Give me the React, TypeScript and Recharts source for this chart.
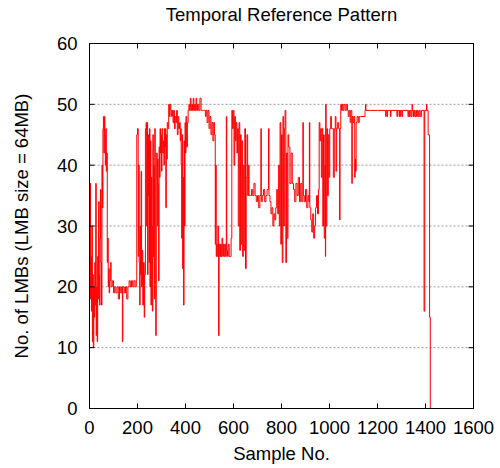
import React from 'react';
import { LineChart, Line, XAxis, YAxis, CartesianGrid, Label, ReferenceLine } from 'recharts';

// sample number / LMB count
const sampleNo = [
  0, 2, 4, 6, 8, 10, 12, 14, 16, 18, 20, 22, 24, 26, 28, 30, 32, 34, 36, 38, 40, 42, 44, 46, 48, 50,
  52, 54, 56, 58, 60, 62, 64, 66, 68, 70, 72, 74, 76, 78, 80, 82, 84, 88, 90, 95, 100, 105, 110, 115,
  120, 125, 130, 134, 137, 139, 145, 150, 155, 160, 165, 170, 175, 180, 185, 190, 195, 197, 200, 203,
  205, 207, 209, 211, 213, 215, 217, 220, 222, 225, 228, 230, 233, 236, 238, 240, 242, 244, 246, 248,
  250, 252, 254, 256, 258, 260, 262, 264, 266, 268, 270, 272, 274, 276, 278, 280, 282, 284, 286, 288,
  290, 292, 294, 296, 298, 300, 302, 305, 308, 310, 312, 314, 316, 318, 320, 322, 324, 327, 330, 333,
  336, 339, 342, 345, 348, 351, 354, 357, 360, 363, 366, 369, 372, 375, 378, 380, 382, 384, 386, 388,
  390, 392, 394, 396, 398, 400, 402, 405, 408, 411, 414, 417, 420, 423, 426, 429, 432, 435, 438, 441,
  444, 447, 450, 455, 460, 465, 470, 475, 480, 483, 486, 490, 494, 498, 502, 506, 510, 514, 518, 521,
  524, 526, 528, 530, 532, 535, 538, 540, 543, 546, 549, 552, 555, 558, 561, 564, 567, 570, 572, 575,
  578, 582, 586, 590, 593, 596, 599, 602, 605, 608, 611, 614, 617, 620, 623, 626, 629, 632, 635, 638,
  641, 644, 647, 650, 653, 656, 659, 662, 665, 670, 675, 680, 685, 690, 695, 700, 705, 710, 714, 716,
  720, 725, 730, 735, 740, 746, 748, 752, 756, 760, 764, 768, 772, 776, 780, 784, 788, 791, 794, 797,
  800, 803, 806, 809, 812, 815, 818, 821, 824, 827, 830, 835, 840, 845, 850, 855, 860, 865, 870, 875,
  880, 885, 889, 891, 895, 900, 905, 910, 914, 916, 918, 922, 926, 930, 934, 938, 942, 946, 950, 954,
  957, 960, 963, 966, 969, 972, 975, 978, 981, 983, 984, 986, 989, 992, 995, 998, 1001, 1005, 1008, 1012,
  1016, 1020, 1024, 1027, 1030, 1034, 1038, 1042, 1044, 1047, 1050, 1053, 1056, 1060, 1065, 1070, 1075, 1078, 1082, 1086,
  1089, 1093, 1095, 1099, 1102, 1105, 1107, 1109, 1111, 1115, 1120, 1124, 1130, 1140, 1148, 1150, 1152, 1170, 1200, 1234,
  1236, 1240, 1242, 1254, 1256, 1281, 1283, 1290, 1292, 1295, 1297, 1302, 1304, 1327, 1330, 1333, 1336, 1340, 1344, 1346,
  1350, 1353, 1356, 1360, 1363, 1366, 1370, 1374, 1378, 1383, 1394, 1397, 1404, 1406, 1411, 1416, 1417, 1419, 1420,
];

const lmbCount = [
  30, 37, 18, 25, 16, 30, 11, 22, 10, 20, 15, 24, 17, 37, 12, 20, 11, 25, 18, 34, 22, 17, 28, 36, 24, 17,
  40, 33, 46, 48, 42, 48, 45, 40, 46, 39, 42, 24, 28, 20, 23, 19, 21, 24, 20, 21, 19, 20, 19, 20,
  18, 20, 19, 20, 11, 20, 19, 20, 18, 20, 21, 20, 21, 20, 21, 20, 21, 45, 46, 25,
  40, 24, 17, 30, 22, 39, 20, 26, 17, 24, 15, 22, 46, 47, 30, 47, 22, 45, 35, 24,
  46, 20, 44, 17, 38, 30, 16, 45, 25, 40, 18, 46, 30, 12, 38, 42, 30, 41, 37, 21,
  43, 38, 46, 42, 45, 39, 46, 42, 44, 40, 46, 43, 46, 33, 45, 41, 47, 46, 50, 48,
  50, 49, 48, 49, 47, 49, 46, 48, 47, 49, 45, 48, 46, 47, 44, 46, 40, 28, 45, 23,
  38, 17, 44, 30, 47, 42, 48, 43, 47, 49, 50, 49, 51, 49, 50, 49, 51, 49, 50, 49,
  51, 49, 50, 49, 51, 49, 49, 49, 49, 48, 49, 47, 49, 46, 48, 45, 47, 44, 47, 45,
  27, 40, 25, 27, 25, 30, 12, 27, 25, 27, 25, 28, 25, 27, 25, 27, 25, 48, 26, 25,
  27, 25, 25, 28, 49, 46, 49, 40, 48, 44, 47, 42, 46, 30, 47, 26, 45, 27, 44, 25,
  40, 26, 46, 23, 38, 45, 35, 40, 35, 35, 36, 35, 37, 35, 34, 35, 33, 35, 46, 34,
  35, 36, 34, 35, 36, 46, 35, 34, 32, 33, 30, 32, 31, 33, 36, 32, 40, 30, 47, 27,
  45, 24, 48, 30, 46, 49, 24, 42, 28, 45, 43, 37, 42, 37, 36, 34, 37, 35, 38, 34,
  37, 34, 47, 35, 34, 36, 33, 35, 34, 47, 33, 31, 29, 32, 28, 30, 33, 35, 32, 36,
  47, 44, 46, 38, 46, 30, 45, 28, 40, 25, 50, 30, 46, 35, 45, 38, 46, 48, 46, 46,
  38, 46, 48, 39, 46, 47, 46, 31, 46, 50, 49, 50, 49, 50, 49, 50, 49, 48, 49, 47,
  49, 37, 48, 47, 48, 38, 41, 39, 47, 48, 47, 48, 48, 48, 49, 50, 49, 49, 49, 48,
  49, 48, 49, 48, 49, 48, 49, 48, 49, 48, 49, 48, 49, 48, 49, 48, 49, 48, 50, 49,
  48, 49, 48, 49, 48, 49, 48, 49, 48, 49, 16, 49, 50, 49, 45, 45, 15, 15, 0,
];

const xTicks = [0, 200, 400, 600, 800, 1000, 1200, 1400, 1600];
const yTicks = [0, 10, 20, 30, 40, 50, 60];

const data = sampleNo.map((x, i) => ({ x, lmbs: lmbCount[i] }));

const font = '"Liberation Sans", Arial, sans-serif';
const fs = 18.5;

const BottomTick = ({ x, y, payload }: any) => (
  <g>
    <line x1={x} y1={y} x2={x} y2={y - 5} stroke="#000" />
    <text x={x} y={y + 25.5} textAnchor="middle" fontSize={fs} fontFamily={font} fill="#000">{payload.value}</text>
  </g>
);

const LeftTick = ({ x, y, payload }: any) => (
  <g>
    <line x1={x} y1={y} x2={x + 5} y2={y} stroke="#000" />
    <text x={x - 12} y={y + 6.5} textAnchor="end" fontSize={fs} fontFamily={font} fill="#000">{payload.value}</text>
  </g>
);

const App = () => (
  <div style={{ position: 'absolute', left: 0, top: 0, width: 500, height: 468, background: '#fff' }}>
    <LineChart width={500} height={468} data={data} margin={{ top: 43.5, right: 26.5, bottom: 0, left: 0 }}>
      <CartesianGrid vertical={false} stroke="#999" strokeDasharray="2 2" />
      <XAxis dataKey="x" type="number" domain={[0, 1600]} ticks={xTicks} height={59.5}
        axisLine={{ stroke: '#000' }} tickLine={false} tickSize={0} tickMargin={0} tick={<BottomTick />} interval={0}>
        <Label content={({ viewBox }: any) => (
          <text x={viewBox.x + viewBox.width / 2} y={460} textAnchor="middle" fontSize={fs} fontFamily={font} fill="#000">Sample No.</text>
        )} />
      </XAxis>
      <YAxis domain={[0, 60]} ticks={yTicks} width={89.5} axisLine={{ stroke: '#000' }} tickLine={false}
        tickSize={0} tickMargin={0} tick={<LeftTick />} interval={0}>
        <Label content={({ viewBox }: any) => {
          const cx = viewBox.x + 27.5;
          const cy = viewBox.y + viewBox.height / 2;
          return (
            <g>
              <text x={281.5} y={21} textAnchor="middle" fontSize={fs} fontFamily={font} fill="#000">Temporal Reference Pattern</text>
              <text x={cx} y={cy} transform={`rotate(-90 ${cx} ${cy})`} textAnchor="middle" fontSize={fs} fontFamily={font} fill="#000">
                No. of LMBs (LMB size = 64MB)
              </text>
            </g>
          );
        }} />
      </YAxis>
      {/* frame: top and right border with inward mirror ticks */}
      <ReferenceLine y={60} stroke="#000" />
      <ReferenceLine x={1600} stroke="#000" />
      {xTicks.map((t) => (
        <ReferenceLine key={`tx${t}`} segment={[{ x: t, y: 60 }, { x: t, y: 59.18 }]} stroke="#000" />
      ))}
      {yTicks.map((t) => (
        <ReferenceLine key={`ty${t}`} segment={[{ x: 1600, y: t }, { x: 1579.2, y: t }]} stroke="#000" />
      ))}
      <Line type="stepAfter" dataKey="lmbs" stroke="#ff0000" strokeWidth={1} dot={false} isAnimationActive={false} />
    </LineChart>
  </div>
);

export default App;
